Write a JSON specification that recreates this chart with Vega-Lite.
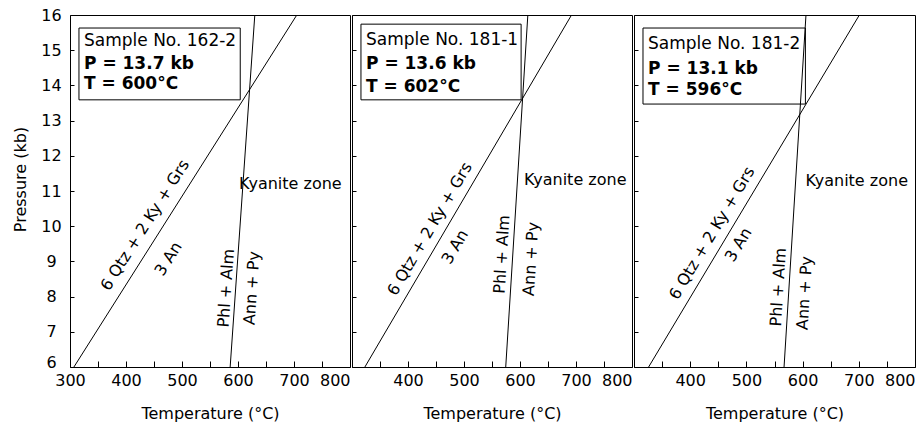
{
  "$schema": "https://vega.github.io/schema/vega-lite/v6.json",
  "background": "white",
  "padding": {"left": 12, "top": 6, "right": 2, "bottom": 4},
  "spacing": 0,
  "datasets": {
    "lines": [
      {"sample": "162-2", "reaction": "A", "T": 307, "P": 6},
      {"sample": "162-2", "reaction": "A", "T": 705, "P": 16},
      {"sample": "162-2", "reaction": "B", "T": 586, "P": 6},
      {"sample": "162-2", "reaction": "B", "T": 630, "P": 16},
      {"sample": "181-1", "reaction": "A", "T": 323, "P": 6},
      {"sample": "181-1", "reaction": "A", "T": 692, "P": 16},
      {"sample": "181-1", "reaction": "B", "T": 574.5, "P": 6},
      {"sample": "181-1", "reaction": "B", "T": 614, "P": 16},
      {"sample": "181-2", "reaction": "A", "T": 326, "P": 6},
      {"sample": "181-2", "reaction": "A", "T": 701, "P": 16},
      {"sample": "181-2", "reaction": "B", "T": 567, "P": 6},
      {"sample": "181-2", "reaction": "B", "T": 606, "P": 16}
    ],
    "boxes": [
      {"sample": "162-2", "T": 316, "T2": 604, "P": 15.63, "P2": 13.59},
      {"sample": "181-1", "T": 316, "T2": 602, "P": 15.74, "P2": 13.59},
      {"sample": "181-2", "T": 316, "T2": 605, "P": 15.63, "P2": 13.47}
    ],
    "info": [
      {"sample": "162-2", "kind": "head", "T": 325, "P": 15.26, "text": "Sample No. 162-2"},
      {"sample": "162-2", "kind": "val", "T": 325, "P": 14.61, "text": "P = 13.7 kb"},
      {"sample": "162-2", "kind": "val", "T": 325, "P": 14.04, "text": "T = 600°C"},
      {"sample": "181-1", "kind": "head", "T": 325, "P": 15.29, "text": "Sample No. 181-1"},
      {"sample": "181-1", "kind": "val", "T": 325, "P": 14.61, "text": "P = 13.6 kb"},
      {"sample": "181-1", "kind": "val", "T": 325, "P": 13.95, "text": "T = 602°C"},
      {"sample": "181-2", "kind": "head", "T": 325, "P": 15.18, "text": "Sample No. 181-2"},
      {"sample": "181-2", "kind": "val", "T": 325, "P": 14.47, "text": "P = 13.1 kb"},
      {"sample": "181-2", "kind": "val", "T": 325, "P": 13.87, "text": "T = 596°C"}
    ],
    "labels": [
      {"sample": "162-2", "kind": "A", "T": 434, "P": 10.03, "text": "6 Qtz + 2 Ky + Grs"},
      {"sample": "162-2", "kind": "A", "T": 476, "P": 9.07, "text": "3 An"},
      {"sample": "162-2", "kind": "B", "T": 579, "P": 8.24, "text": "Phl + Alm"},
      {"sample": "162-2", "kind": "B", "T": 625, "P": 8.24, "text": "Ann + Py"},
      {"sample": "162-2", "kind": "Z", "T": 602, "P": 11.2, "text": "Kyanite zone"},
      {"sample": "181-1", "kind": "A", "T": 439, "P": 9.92, "text": "6 Qtz + 2 Ky + Grs"},
      {"sample": "181-1", "kind": "A", "T": 484, "P": 9.41, "text": "3 An"},
      {"sample": "181-1", "kind": "B", "T": 568, "P": 9.2, "text": "Phl + Alm"},
      {"sample": "181-1", "kind": "B", "T": 620, "P": 9.07, "text": "Ann + Py"},
      {"sample": "181-1", "kind": "Z", "T": 607, "P": 11.3, "text": "Kyanite zone"},
      {"sample": "181-2", "kind": "A", "T": 439, "P": 9.8, "text": "6 Qtz + 2 Ky + Grs"},
      {"sample": "181-2", "kind": "A", "T": 486, "P": 9.47, "text": "3 An"},
      {"sample": "181-2", "kind": "B", "T": 557, "P": 8.27, "text": "Phl + Alm"},
      {"sample": "181-2", "kind": "B", "T": 604, "P": 8.1, "text": "Ann + Py"},
      {"sample": "181-2", "kind": "Z", "T": 605, "P": 11.28, "text": "Kyanite zone"}
    ]
  },
  "hconcat": [
    {
      "width": 280, "height": 352,
      "encoding": {
        "x": {"field": "T", "type": "quantitative", "scale": {"domain": [300, 800], "nice": false},
              "axis": {"title": "Temperature (°C)", "values": [300, 350, 400, 450, 500, 550, 600, 650, 700, 750, 800],
                       "labelExpr": "datum.value % 100 == 0 ? datum.label : ''", "labelFlush": false, "labelOverlap": false,
                       "labelAlign": {"condition": {"test": "datum.value == 800", "value": "right"}, "value": "center"},
                       "tickSize": -6, "labelPadding": 11, "titlePadding": 17, "domain": false}},
        "y": {"field": "P", "type": "quantitative", "scale": {"domain": [6, 16], "nice": false},
              "axis": {"title": "Pressure (kb)", "values": [6, 7, 8, 9, 10, 11, 12, 13, 14, 15, 16], "tickCount": 11, "labelOverlap": false,
                       "labelAlign": "center",
                       "labelBaseline": {"condition": {"test": "datum.value == 6", "value": "alphabetic"}, "value": "middle"},
                       "tickSize": -4, "labelPadding": 23, "titlePadding": 12, "titleY": 164, "domain": false}}
      },
      "layer": [
        {"data": {"name": "lines"}, "transform": [{"filter": "datum.sample == '162-2'"}],
         "mark": {"type": "line", "color": "black", "strokeWidth": 1},
         "encoding": {"detail": {"field": "reaction"}}},
        {"data": {"name": "boxes"}, "transform": [{"filter": "datum.sample == '162-2'"}],
         "mark": {"type": "rect", "fill": null, "fillOpacity": 0, "stroke": "black", "strokeWidth": 1},
         "encoding": {"x2": {"field": "T2"}, "y2": {"field": "P2"}}},
        {"data": {"name": "info"}, "transform": [{"filter": "datum.sample == '162-2' && datum.kind == 'head'"}],
         "mark": {"type": "text", "align": "left", "baseline": "middle", "fontSize": 17},
         "encoding": {"text": {"field": "text"}}},
        {"data": {"name": "info"}, "transform": [{"filter": "datum.sample == '162-2' && datum.kind == 'val'"}],
         "mark": {"type": "text", "align": "left", "baseline": "middle", "fontSize": 17, "fontWeight": "bold"},
         "encoding": {"text": {"field": "text"}}},
        {"data": {"name": "labels"}, "transform": [{"filter": "datum.sample == '162-2' && datum.kind == 'A'"}],
         "mark": {"type": "text", "align": "center", "baseline": "middle", "angle": 302.3},
         "encoding": {"text": {"field": "text"}}},
        {"data": {"name": "labels"}, "transform": [{"filter": "datum.sample == '162-2' && datum.kind == 'B'"}],
         "mark": {"type": "text", "align": "center", "baseline": "middle", "angle": 274},
         "encoding": {"text": {"field": "text"}}},
        {"data": {"name": "labels"}, "transform": [{"filter": "datum.sample == '162-2' && datum.kind == 'Z'"}],
         "mark": {"type": "text", "align": "left", "baseline": "middle"},
         "encoding": {"text": {"field": "text"}}}
      ]
    },
    {
      "width": 280, "height": 352,
      "encoding": {
        "x": {"field": "T", "type": "quantitative", "scale": {"domain": [300, 800], "nice": false},
              "axis": {"title": "Temperature (°C)", "values": [300, 350, 400, 450, 500, 550, 600, 650, 700, 750, 800],
                       "labelExpr": "datum.value % 100 == 0 && datum.value > 300 ? datum.label : ''", "labelFlush": false, "labelOverlap": false,
                       "labelAlign": {"condition": {"test": "datum.value == 800", "value": "right"}, "value": "center"},
                       "tickSize": -6, "labelPadding": 11, "titlePadding": 17, "domain": false}},
        "y": {"field": "P", "type": "quantitative", "scale": {"domain": [6, 16], "nice": false},
              "axis": {"title": null, "labels": false, "values": [6, 7, 8, 9, 10, 11, 12, 13, 14, 15, 16],
                       "tickSize": -4, "domain": false, "minExtent": 0}}
      },
      "layer": [
        {"data": {"name": "lines"}, "transform": [{"filter": "datum.sample == '181-1'"}],
         "mark": {"type": "line", "color": "black", "strokeWidth": 1},
         "encoding": {"detail": {"field": "reaction"}}},
        {"data": {"name": "boxes"}, "transform": [{"filter": "datum.sample == '181-1'"}],
         "mark": {"type": "rect", "fill": null, "fillOpacity": 0, "stroke": "black", "strokeWidth": 1},
         "encoding": {"x2": {"field": "T2"}, "y2": {"field": "P2"}}},
        {"data": {"name": "info"}, "transform": [{"filter": "datum.sample == '181-1' && datum.kind == 'head'"}],
         "mark": {"type": "text", "align": "left", "baseline": "middle", "fontSize": 17},
         "encoding": {"text": {"field": "text"}}},
        {"data": {"name": "info"}, "transform": [{"filter": "datum.sample == '181-1' && datum.kind == 'val'"}],
         "mark": {"type": "text", "align": "left", "baseline": "middle", "fontSize": 17, "fontWeight": "bold"},
         "encoding": {"text": {"field": "text"}}},
        {"data": {"name": "labels"}, "transform": [{"filter": "datum.sample == '181-1' && datum.kind == 'A'"}],
         "mark": {"type": "text", "align": "center", "baseline": "middle", "angle": 300.4},
         "encoding": {"text": {"field": "text"}}},
        {"data": {"name": "labels"}, "transform": [{"filter": "datum.sample == '181-1' && datum.kind == 'B'"}],
         "mark": {"type": "text", "align": "center", "baseline": "middle", "angle": 273.6},
         "encoding": {"text": {"field": "text"}}},
        {"data": {"name": "labels"}, "transform": [{"filter": "datum.sample == '181-1' && datum.kind == 'Z'"}],
         "mark": {"type": "text", "align": "left", "baseline": "middle"},
         "encoding": {"text": {"field": "text"}}}
      ]
    },
    {
      "width": 281, "height": 352,
      "encoding": {
        "x": {"field": "T", "type": "quantitative", "scale": {"domain": [300, 800], "nice": false},
              "axis": {"title": "Temperature (°C)", "values": [300, 350, 400, 450, 500, 550, 600, 650, 700, 750, 800],
                       "labelExpr": "datum.value % 100 == 0 && datum.value > 300 ? datum.label : ''", "labelFlush": false, "labelOverlap": false,
                       "labelAlign": {"condition": {"test": "datum.value == 800", "value": "right"}, "value": "center"},
                       "tickSize": -6, "labelPadding": 11, "titlePadding": 17, "domain": false}},
        "y": {"field": "P", "type": "quantitative", "scale": {"domain": [6, 16], "nice": false},
              "axis": {"title": null, "labels": false, "values": [6, 7, 8, 9, 10, 11, 12, 13, 14, 15, 16],
                       "tickSize": -4, "domain": false, "minExtent": 0}}
      },
      "layer": [
        {"data": {"name": "lines"}, "transform": [{"filter": "datum.sample == '181-2'"}],
         "mark": {"type": "line", "color": "black", "strokeWidth": 1},
         "encoding": {"detail": {"field": "reaction"}}},
        {"data": {"name": "boxes"}, "transform": [{"filter": "datum.sample == '181-2'"}],
         "mark": {"type": "rect", "fill": null, "fillOpacity": 0, "stroke": "black", "strokeWidth": 1},
         "encoding": {"x2": {"field": "T2"}, "y2": {"field": "P2"}}},
        {"data": {"name": "info"}, "transform": [{"filter": "datum.sample == '181-2' && datum.kind == 'head'"}],
         "mark": {"type": "text", "align": "left", "baseline": "middle", "fontSize": 17},
         "encoding": {"text": {"field": "text"}}},
        {"data": {"name": "info"}, "transform": [{"filter": "datum.sample == '181-2' && datum.kind == 'val'"}],
         "mark": {"type": "text", "align": "left", "baseline": "middle", "fontSize": 17, "fontWeight": "bold"},
         "encoding": {"text": {"field": "text"}}},
        {"data": {"name": "labels"}, "transform": [{"filter": "datum.sample == '181-2' && datum.kind == 'A'"}],
         "mark": {"type": "text", "align": "center", "baseline": "middle", "angle": 300.8},
         "encoding": {"text": {"field": "text"}}},
        {"data": {"name": "labels"}, "transform": [{"filter": "datum.sample == '181-2' && datum.kind == 'B'"}],
         "mark": {"type": "text", "align": "center", "baseline": "middle", "angle": 273.5},
         "encoding": {"text": {"field": "text"}}},
        {"data": {"name": "labels"}, "transform": [{"filter": "datum.sample == '181-2' && datum.kind == 'Z'"}],
         "mark": {"type": "text", "align": "left", "baseline": "middle"},
         "encoding": {"text": {"field": "text"}}}
      ]
    }
  ],
  "config": {
    "view": {"stroke": "black", "strokeWidth": 1},
    "axis": {"labelFont": "DejaVu Sans", "labelFontSize": 16, "labelColor": "black",
             "titleFont": "DejaVu Sans", "titleFontSize": 16, "titleFontWeight": "normal", "titleColor": "black",
             "tickColor": "black", "domainColor": "black", "grid": false},
    "text": {"font": "DejaVu Sans", "fontSize": 16, "color": "black"}
  }
}
